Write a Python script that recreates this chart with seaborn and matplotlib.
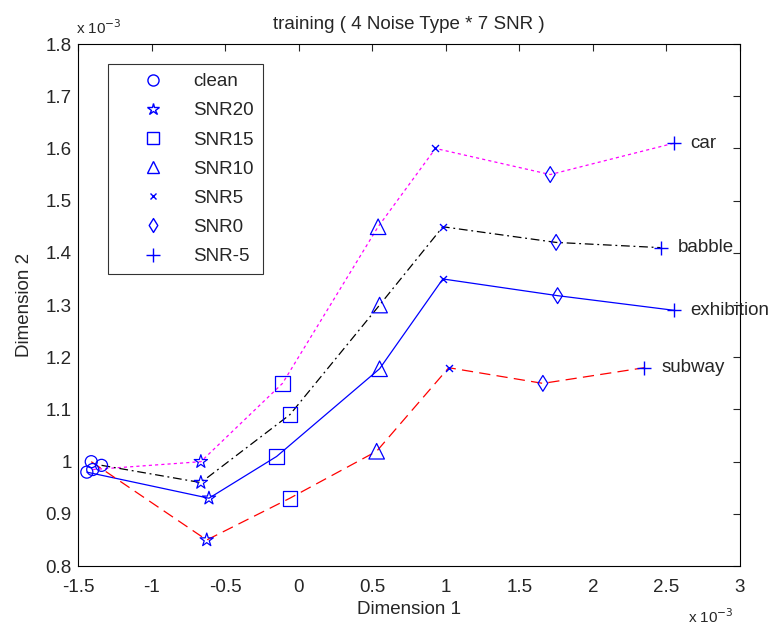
import numpy as np
import pandas as pd
import matplotlib
matplotlib.use("Agg")
import matplotlib.pyplot as plt
import seaborn as sns
from matplotlib.lines import Line2D
from matplotlib.path import Path

sns.set_style("white")
plt.rcParams['font.family'] = ['Liberation Sans', 'DejaVu Sans']

levels = ["clean", "SNR20", "SNR15", "SNR10", "SNR5", "SNR0", "SNR-5"]
noise_types = ["car", "babble", "exhibition", "subway"]

# values in units of 1e-3
car_x = [-1.40, -0.665, -0.11, 0.54, 0.93, 1.71, 2.55]
car_y = [0.985, 1.000, 1.150, 1.450, 1.600, 1.550, 1.610]
babble_x = [-1.34, -0.665, -0.06, 0.55, 0.98, 1.75, 2.46]
babble_y = [0.993, 0.960, 1.090, 1.300, 1.450, 1.420, 1.410]
exhibition_x = [-1.44, -0.61, -0.15, 0.55, 0.98, 1.76, 2.55]
exhibition_y = [0.980, 0.930, 1.010, 1.178, 1.350, 1.318, 1.290]
subway_x = [-1.41, -0.625, -0.06, 0.53, 1.02, 1.66, 2.35]
subway_y = [1.000, 0.850, 0.930, 1.020, 1.180, 1.150, 1.180]

xticks = [-1.5, -1, -0.5, 0, 0.5, 1, 1.5, 2, 2.5, 3]
xticklabels = ["-1.5", "-1", "-0.5", "0", "0.5", "1", "1.5", "2", "2.5", "3"]
yticks = [0.8, 0.9, 1.0, 1.1, 1.2, 1.3, 1.4, 1.5, 1.6, 1.7, 1.8]
yticklabels = ["0.8", "0.9", "1", "1.1", "1.2", "1.3", "1.4", "1.5", "1.6", "1.7", "1.8"]

series_x = [car_x, babble_x, exhibition_x, subway_x]
series_y = [car_y, babble_y, exhibition_y, subway_y]
line_colors = ["#ff00ff", "black", "blue", "red"]
line_styles = [(0, (2.5, 2.5)), (0, (7, 3, 1.5, 3)), "-", (0, (9, 5))]

FS = 13.5

diamond = Path([(0, 1), (0.62, 0), (0, -1), (-0.62, 0), (0, 1)],
               [Path.MOVETO, Path.LINETO, Path.LINETO, Path.LINETO, Path.CLOSEPOLY])

markers = ["o", "*", "s", "^", "x", diamond, "+"]
msizes = [75, 100, 110, 125, 25, 130, 95]

fig = plt.figure(figsize=(7.77, 6.29), dpi=100)
ax = fig.add_axes([0.1004, 0.1, 0.852, 0.830])

for xs, ys, c, ls in zip(series_x, series_y, line_colors, line_styles):
    df = pd.DataFrame({"x": xs, "y": ys})
    sns.lineplot(data=df, x="x", y="y", sort=False, color=c, linestyle=ls,
                 linewidth=0.9, ax=ax, legend=False)

rows = []
for name, xs, ys in zip(noise_types, series_x, series_y):
    for lv, xv, yv in zip(levels, xs, ys):
        rows.append({"noise": name, "level": lv, "x": xv, "y": yv})
pts = pd.DataFrame(rows)

for lv, mk, sz in zip(levels, markers, msizes):
    sub = pts[pts["level"] == lv]
    if isinstance(mk, str) and mk in ("x", "+"):
        sns.scatterplot(data=sub, x="x", y="y", marker=mk, s=sz, color="blue",
                        linewidth=1.0, ax=ax, legend=False, zorder=5)
    else:
        sns.scatterplot(data=sub, x="x", y="y", marker=mk, s=sz, facecolors="none",
                        edgecolor="blue", linewidth=0.9, ax=ax, legend=False, zorder=5)

# series labels
for name, xs, ys in zip(noise_types, series_x, series_y):
    ax.text(xs[-1] + 0.115, ys[-1], name, fontsize=FS, va="center", ha="left")

ax.set_xlim(-1.5, 3)
ax.set_ylim(0.8, 1.8)
ax.set_xticks(xticks)
ax.set_xticklabels(xticklabels)
ax.set_yticks(yticks)
ax.set_yticklabels(yticklabels)
ax.tick_params(direction="in", length=5, width=0.8, top=True, right=True,
               labelsize=FS)
ax.tick_params(axis="x", pad=9)
ax.tick_params(axis="y", pad=4.5)
for sp in ax.spines.values():
    sp.set_visible(True)
    sp.set_linewidth(0.8)
    sp.set_color("black")

ax.set_xlabel("Dimension 1", fontsize=FS, labelpad=4)
ax.set_ylabel("Dimension 2", fontsize=FS, labelpad=9)
ax.set_title("training ( 4 Noise Type * 7 SNR )", fontsize=FS, pad=11)

fig.text(76/777, 1 - 28/629, r"x 10$^{-3}$", fontsize=11, va="center", ha="left")
fig.text(688/777, 1 - 617/629, r"x 10$^{-3}$", fontsize=11, va="center", ha="left")

leg_markers = ["o", "*", "s", "^", "x", diamond, "+"]
leg_sizes = [8, 9, 8, 9, 5, 10, 10]
handles = []
for lv, mk, ms in zip(levels, leg_markers, leg_sizes):
    handles.append(Line2D([], [], linestyle="none", marker=mk, markersize=ms,
                          markerfacecolor="none", markeredgecolor="blue",
                          markeredgewidth=1.0, color="blue", label=lv))
leg = ax.legend(handles=handles, loc="upper left", bbox_to_anchor=(0.045, 0.962),
                frameon=True, fancybox=False, edgecolor="black", fontsize=FS,
                labelspacing=0.64, handletextpad=0.25, borderpad=0.5,
                borderaxespad=0, handlelength=3.8)
leg.get_frame().set_linewidth(0.8)

fig.savefig("out.png", dpi=100, facecolor="white")
